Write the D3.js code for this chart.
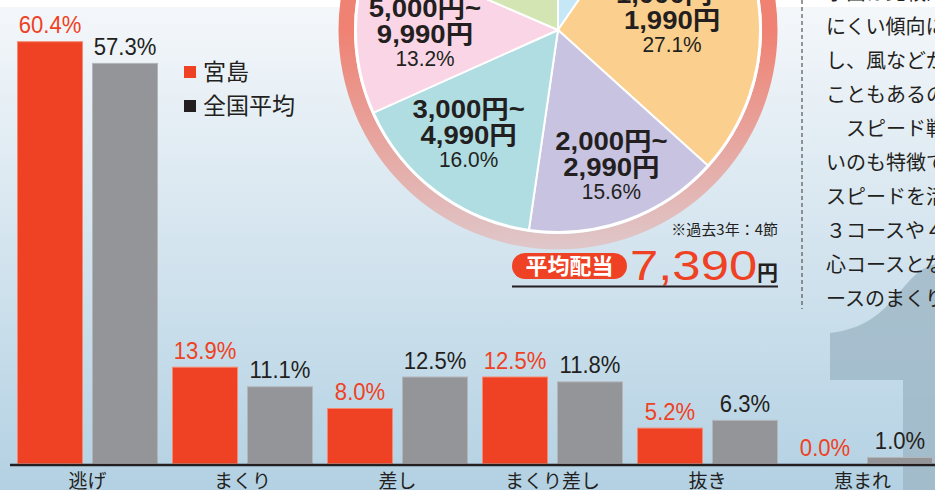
<!DOCTYPE html>
<html lang="ja">
<head>
<meta charset="utf-8">
<title>決まり手・配当分布</title>
<script src="https://d3js.org/d3.v7.min.js"></script>
<style>
body { margin: 0; background: #fff; }
svg { display: block; }
</style>
</head>
<body>
<script>
// 決まり手 (%)
var categories = ["逃げ", "まくり", "差し", "まくり差し", "抜き", "恵まれ"];
var seriesNames = ["宮島", "全国平均"];
var miyajima = [60.4, 13.9, 8.0, 12.5, 5.2, 0.0];
var national = [57.3, 11.1, 12.5, 11.8, 6.3, 1.0];

// 配当分布 (円グラフ, 上から時計回り)
var payoutFrom = ["100円~", "1,000円~", "2,000円~", "3,000円~", "5,000円~", "10,000円~"];
var payoutTo = ["990円", "1,990円", "2,990円", "4,990円", "9,990円", ""];
var payoutShare = [9.6, 27.1, 15.6, 16.0, 13.2, 18.5];
var avgPayout = "7,390";
var noteText = "※過去3年：4節";

// 右側の本文
var bodyLines = ["水面は比較的荒れ", "にくい傾向にある", "し、風などが強く", "こともあるので注",
  "　スピード戦にな", "いのも特徴です。", "スピードを活かし", "３コースや４コー",
  "心コースとなるが", "ースのまくりも"];

var W = 935, H = 490;
var red = "#ef4123", grey = "#939598", ink = "#231f20";
var sliceColors = ["#c6e7f6", "#fbcf8d", "#c7c3e0", "#afdde2", "#f9d5e6", "#d2e5b2"];

var svg = d3.select("body").append("svg")
  .attr("width", W)
  .attr("height", H);

var defs = svg.append("defs");
var bg = defs.append("linearGradient").attr("id", "bg")
  .attr("x1", 0).attr("y1", 0).attr("x2", 0).attr("y2", 1);
bg.append("stop").attr("offset", "0%").attr("stop-color", "#f4f7fa");
bg.append("stop").attr("offset", "100%").attr("stop-color", "#b3d1e3");

var ringGrad = defs.append("linearGradient").attr("id", "ring")
  .attr("gradientUnits", "userSpaceOnUse")
  .attr("x1", 0).attr("y1", 0).attr("x2", 0).attr("y2", 250);
ringGrad.append("stop").attr("offset", "0%").attr("stop-color", "#ef8273");
ringGrad.append("stop").attr("offset", "100%").attr("stop-color", "#ddd1d6");

// background
svg.append("rect").attr("width", W).attr("height", H).attr("fill", "#fff");
svg.append("rect").attr("y", 7).attr("width", W).attr("height", H - 7).attr("fill", "url(#bg)");

// big "1" behind everything
svg.append("path")
  .attr("d", "M935,264 C900,272 895,326 830,333 L830,380 L903,380 L903,490 L935,490 Z")
  .attr("fill", "#9db6c6")
  .attr("opacity", 0.8);

// ---------- bar chart ----------
var x0 = d3.scaleBand()
  .domain(categories)
  .range([17, 933])
  .paddingInner(0.0903)
  .paddingOuter(0);

var x1 = d3.scaleBand()
  .domain(seriesNames)
  .range([0, x0.bandwidth()])
  .paddingInner(0.12);

var y = d3.scaleLinear()
  .domain([0, 60])
  .range([464, 44]);

var rows = categories.map(function(c, i) {
  return { cat: c, vals: [
    { name: seriesNames[0], v: miyajima[i], fill: red, edge: "#f58a72", txt: red },
    { name: seriesNames[1], v: national[i], fill: grey, edge: "#b3b5b8", txt: ink }
  ]};
});

var groups = svg.selectAll("g.grp")
  .data(rows)
  .enter().append("g")
  .attr("class", "grp")
  .attr("transform", function(d) { return "translate(" + x0(d.cat) + ",0)"; });

groups.selectAll("rect")
  .data(function(d) { return d.vals; })
  .enter().append("rect")
  .attr("x", function(d) { return x1(d.name) + 0.5; })
  .attr("y", function(d) { return y(d.v) + 0.5; })
  .attr("width", x1.bandwidth() - 1)
  .attr("height", function(d) { return Math.max(0, y(0) - y(d.v) - 1); })
  .attr("fill", function(d) { return d.fill; })
  .attr("stroke", function(d) { return d.v > 0 ? d.edge : "none"; })
  .attr("stroke-width", 1);

groups.selectAll("text.val")
  .data(function(d) { return d.vals; })
  .enter().append("text")
  .attr("class", "val")
  .attr("transform", function(d) {
    return "translate(" + (x1(d.name) + x1.bandwidth() / 2) + "," + (y(d.v) - 8) + ") scale(0.96,1)";
  })
  .attr("text-anchor", "middle")
  .attr("font-family", "'Liberation Sans', Arial, sans-serif")
  .attr("font-size", 23)
  .attr("fill", function(d) { return d.txt; })
  .text(function(d) { return d.v.toFixed(1) + "%"; });

// baseline + category axis
svg.append("line")
  .attr("x1", 10).attr("x2", W)
  .attr("y1", y(0) + 1).attr("y2", y(0) + 1)
  .attr("stroke", ink)
  .attr("stroke-width", 2.5);

var xAxis = svg.append("g")
  .attr("transform", "translate(0," + (y(0) + 2) + ")")
  .call(d3.axisBottom(x0).tickSize(0).tickPadding(7));
xAxis.select(".domain").remove();
xAxis.selectAll("text")
  .attr("font-family", "'Noto Sans CJK JP', sans-serif")
  .attr("font-size", 19)
  .attr("fill", ink)
  .attr("dy", "0.8em");

// legend
var legend = svg.append("g");
seriesNames.forEach(function(n, i) {
  var ly = 66 + i * 34;
  legend.append("rect").attr("x", 184).attr("y", ly).attr("width", 12).attr("height", 12)
    .attr("fill", i === 0 ? red : ink);
  legend.append("text").attr("x", 203).attr("y", ly + 14)
    .attr("font-family", "'Noto Sans CJK JP', sans-serif")
    .attr("font-size", 23)
    .attr("fill", ink)
    .text(n);
});

// ---------- pie ----------
var cx = 558, cy = 30, rPie = 202;
var pieG = svg.append("g").attr("transform", "translate(" + cx + "," + cy + ")");

pieG.append("path")
  .attr("d", d3.arc().innerRadius(204).outerRadius(219.5).startAngle(0).endAngle(2 * Math.PI)())
  .attr("fill", "url(#ring)");
pieG.append("circle").attr("r", 204).attr("fill", "#fff");

var pie = d3.pie().sort(null).value(function(d) { return d; });
var arcs = pie(payoutShare);
var arc = d3.arc().innerRadius(0).outerRadius(rPie);
var labelArc = d3.arc().innerRadius(140).outerRadius(140);

pieG.selectAll("path.slice")
  .data(arcs)
  .enter().append("path")
  .attr("class", "slice")
  .attr("d", arc)
  .attr("fill", function(d, i) { return sliceColors[i]; })
  .attr("stroke", "#fff")
  .attr("stroke-width", 2);

// small nudges so the labels sit where the original puts them
var nudge = [[0, 0], [-25, 6], [6, 5], [-5, -7], [7, 3], [0, 0]];
var lab = pieG.selectAll("g.lab")
  .data(arcs)
  .enter().append("g")
  .attr("class", "lab")
  .attr("transform", function(d, i) {
    var c = labelArc.centroid(d);
    return "translate(" + (c[0] + nudge[i][0]) + "," + (c[1] + nudge[i][1]) + ")";
  });
lab.append("text")
  .attr("transform", "translate(0,-17) scale(1.1,1)")
  .attr("text-anchor", "middle")
  .attr("font-family", "'Liberation Sans', 'Noto Sans CJK JP', sans-serif")
  .attr("font-weight", "bold")
  .attr("font-size", 25)
  .attr("fill", ink)
  .text(function(d, i) { return payoutFrom[i]; });
lab.append("text")
  .attr("transform", "translate(0,9) scale(1.1,1)")
  .attr("text-anchor", "middle")
  .attr("font-family", "'Liberation Sans', 'Noto Sans CJK JP', sans-serif")
  .attr("font-weight", "bold")
  .attr("font-size", 25)
  .attr("fill", ink)
  .text(function(d, i) { return payoutTo[i]; });
lab.append("text")
  .attr("transform", "translate(0,32) scale(0.95,1)")
  .attr("text-anchor", "middle")
  .attr("font-family", "'Liberation Sans', Arial, sans-serif")
  .attr("font-size", 22)
  .attr("fill", ink)
  .text(function(d) { return d.data.toFixed(1) + "%"; });

// note + average payout
svg.append("text")
  .attr("x", 778).attr("y", 235)
  .attr("text-anchor", "end")
  .attr("font-family", "'Noto Sans CJK JP', sans-serif")
  .attr("font-size", 15)
  .attr("fill", ink)
  .text(noteText);

svg.append("rect")
  .attr("x", 512).attr("y", 253).attr("width", 115).attr("height", 26)
  .attr("rx", 13).attr("fill", red);
svg.append("text")
  .attr("x", 569.5).attr("y", 274)
  .attr("text-anchor", "middle")
  .attr("font-family", "'Noto Sans CJK JP', sans-serif")
  .attr("font-weight", "bold")
  .attr("font-size", 22)
  .attr("fill", "#fff")
  .text("平均配当");
svg.append("text")
  .attr("transform", "translate(630,280) scale(1.21,1)")
  .attr("font-family", "'Liberation Sans', Arial, sans-serif")
  .attr("font-size", 42)
  .attr("fill", red)
  .text(avgPayout);
svg.append("text")
  .attr("x", 757).attr("y", 280)
  .attr("font-family", "'Noto Sans CJK JP', sans-serif")
  .attr("font-weight", "bold")
  .attr("font-size", 21)
  .attr("fill", ink)
  .text("円");
svg.append("line")
  .attr("x1", 512).attr("x2", 778)
  .attr("y1", 286.5).attr("y2", 286.5)
  .attr("stroke", ink).attr("stroke-width", 2);

// ---------- right text column ----------
svg.append("line")
  .attr("x1", 802).attr("x2", 802)
  .attr("y1", 0).attr("y2", 309)
  .attr("stroke", "#555")
  .attr("stroke-width", 1.2)
  .attr("stroke-dasharray", "4,3");

svg.selectAll("text.body")
  .data(bodyLines)
  .enter().append("text")
  .attr("class", "body")
  .attr("x", 826)
  .attr("y", function(d, i) { return -8 + i * 34 + 7.5; })
  .attr("font-family", "'Noto Sans CJK JP', sans-serif")
  .attr("font-size", 20)
  .attr("fill", ink)
  .text(function(d) { return d; });
</script>
</body>
</html>
